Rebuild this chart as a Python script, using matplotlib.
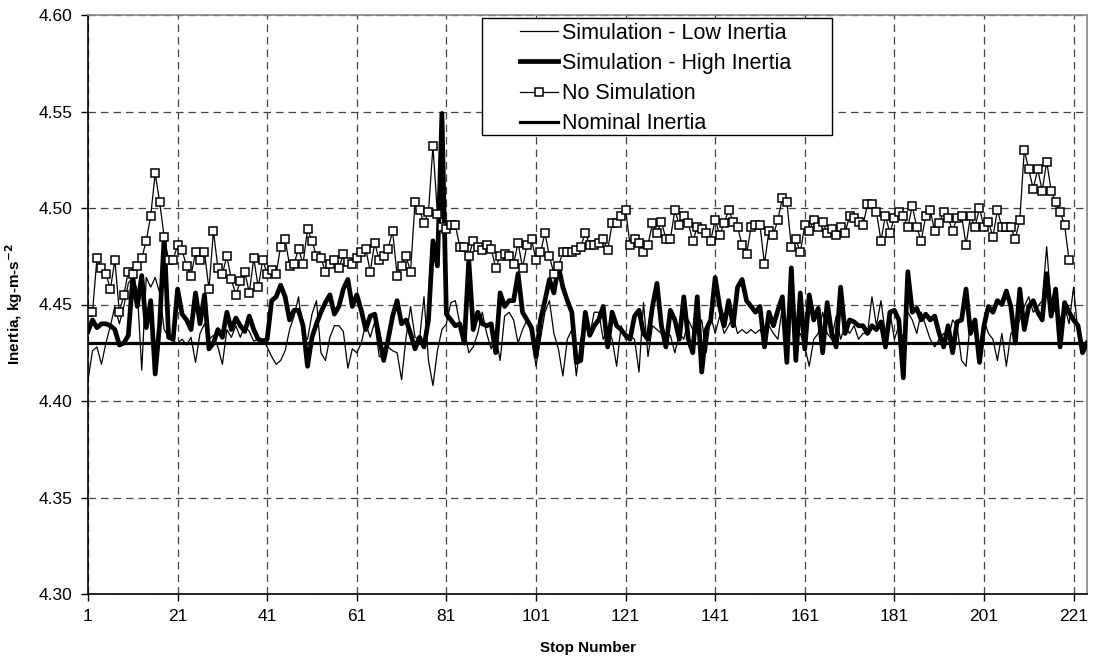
import numpy as np
from matplotlib import pyplot as plt
from matplotlib.patches import Rectangle

plt.rcParams['font.family'] = ['Liberation Sans', 'DejaVu Sans']

# stops 1..224 (no simulation run only has 220 stops)
low_inertia = [
    4.411, 4.426, 4.428, 4.419, 4.430, 4.439, 4.449, 4.440, 4.449, 4.461,
    4.464, 4.457, 4.416, 4.464, 4.459, 4.464, 4.456, 4.437, 4.433, 4.431,
    4.430, 4.432, 4.429, 4.433, 4.420, 4.435, 4.440, 4.432, 4.434, 4.428,
    4.419, 4.437, 4.433, 4.439, 4.433, 4.439, 4.436, 4.431, 4.432, 4.432,
    4.428, 4.423, 4.419, 4.421, 4.426, 4.437, 4.444, 4.454, 4.433, 4.432,
    4.445, 4.452, 4.425, 4.421, 4.433, 4.439, 4.439, 4.436, 4.417, 4.427,
    4.425, 4.430, 4.440, 4.433, 4.441, 4.423, 4.423, 4.428, 4.426, 4.425,
    4.411, 4.433, 4.449, 4.433, 4.432, 4.454, 4.421, 4.408, 4.426, 4.437,
    4.440, 4.451, 4.452, 4.440, 4.437, 4.425, 4.428, 4.435, 4.446, 4.435,
    4.427, 4.434, 4.421, 4.444, 4.446, 4.442, 4.430, 4.437, 4.442, 4.435,
    4.418, 4.432, 4.446, 4.452, 4.435, 4.427, 4.413, 4.432, 4.437, 4.413,
    4.432, 4.440, 4.434, 4.446, 4.446, 4.432, 4.437, 4.432, 4.418, 4.439,
    4.432, 4.434, 4.432, 4.415, 4.451, 4.423, 4.439, 4.437, 4.435, 4.434,
    4.434, 4.425, 4.435, 4.432, 4.442, 4.437, 4.435, 4.442, 4.425, 4.444,
    4.435, 4.444, 4.435, 4.439, 4.444, 4.435, 4.437, 4.435, 4.437, 4.435,
    4.437, 4.432, 4.439, 4.435, 4.432, 4.449, 4.437, 4.456, 4.432, 4.435,
    4.428, 4.418, 4.432, 4.435, 4.446, 4.435, 4.432, 4.444, 4.432, 4.439,
    4.435, 4.439, 4.432, 4.435, 4.435, 4.454, 4.439, 4.452, 4.435, 4.446,
    4.432, 4.439, 4.432, 4.446, 4.442, 4.435, 4.446, 4.439, 4.432, 4.428,
    4.432, 4.435, 4.432, 4.442, 4.439, 4.421, 4.418, 4.442, 4.435, 4.428,
    4.442, 4.435, 4.432, 4.421, 4.435, 4.418, 4.435, 4.437, 4.442, 4.449,
    4.454, 4.446, 4.449, 4.452, 4.480, 4.449, 4.446, 4.442, 4.449, 4.440,
    4.459, 4.435, 4.428, 4.430,
]

high_inertia = [
    4.436, 4.442, 4.438, 4.440, 4.440, 4.439, 4.437, 4.429, 4.430, 4.434,
    4.464, 4.449, 4.465, 4.438, 4.452, 4.414, 4.440, 4.485, 4.433, 4.432,
    4.458, 4.445, 4.442, 4.437, 4.456, 4.440, 4.455, 4.427, 4.430, 4.437,
    4.433, 4.446, 4.437, 4.443, 4.439, 4.436, 4.444, 4.437, 4.432, 4.431,
    4.432, 4.452, 4.454, 4.460, 4.454, 4.442, 4.447, 4.447, 4.439, 4.418,
    4.433, 4.440, 4.446, 4.451, 4.455, 4.445, 4.449, 4.458, 4.463, 4.449,
    4.455, 4.447, 4.437, 4.444, 4.445, 4.433, 4.421, 4.432, 4.444, 4.452,
    4.440, 4.442, 4.435, 4.427, 4.433, 4.428, 4.442, 4.483, 4.470, 4.549,
    4.445, 4.442, 4.439, 4.440, 4.430, 4.473, 4.437, 4.446, 4.440, 4.439,
    4.440, 4.425, 4.456, 4.449, 4.452, 4.452, 4.466, 4.446, 4.442, 4.438,
    4.423, 4.442, 4.452, 4.463, 4.456, 4.470, 4.459, 4.452, 4.446, 4.420,
    4.421, 4.446, 4.434, 4.439, 4.442, 4.449, 4.428, 4.446, 4.439, 4.437,
    4.434, 4.432, 4.444, 4.447, 4.435, 4.432, 4.449, 4.461, 4.439, 4.428,
    4.447, 4.442, 4.432, 4.454, 4.432, 4.425, 4.454, 4.415, 4.437, 4.442,
    4.464, 4.449, 4.439, 4.452, 4.439, 4.459, 4.463, 4.452, 4.449, 4.446,
    4.449, 4.428, 4.446, 4.439, 4.447, 4.454, 4.420, 4.469, 4.421, 4.456,
    4.427, 4.455, 4.442, 4.448, 4.425, 4.451, 4.435, 4.428, 4.459, 4.435,
    4.442, 4.441, 4.439, 4.439, 4.435, 4.439, 4.437, 4.441, 4.428, 4.446,
    4.447, 4.442, 4.412, 4.467, 4.446, 4.448, 4.442, 4.445, 4.442, 4.444,
    4.435, 4.428, 4.439, 4.425, 4.441, 4.442, 4.458, 4.435, 4.442, 4.420,
    4.439, 4.449, 4.446, 4.452, 4.450, 4.457, 4.449, 4.430, 4.458, 4.437,
    4.449, 4.452, 4.446, 4.442, 4.466, 4.444, 4.458, 4.428, 4.451, 4.446,
    4.442, 4.439, 4.425, 4.430,
]

no_simulation = [
    4.446, 4.446, 4.474, 4.469, 4.466, 4.458, 4.473, 4.446, 4.455, 4.467,
    4.466, 4.470, 4.474, 4.483, 4.496, 4.518, 4.503, 4.485, 4.473, 4.473,
    4.481, 4.478, 4.470, 4.465, 4.477, 4.473, 4.477, 4.458, 4.488, 4.469,
    4.466, 4.475, 4.463, 4.455, 4.462, 4.467, 4.456, 4.474, 4.459, 4.473,
    4.466, 4.468, 4.466, 4.480, 4.484, 4.470, 4.471, 4.479, 4.471, 4.489,
    4.483, 4.475, 4.474, 4.467, 4.471, 4.473, 4.469, 4.476, 4.472, 4.471,
    4.474, 4.477, 4.479, 4.467, 4.482, 4.473, 4.475, 4.479, 4.488, 4.465,
    4.470, 4.475, 4.467, 4.503, 4.499, 4.492, 4.498, 4.532, 4.497, 4.490,
    4.489, 4.491, 4.491, 4.480, 4.480, 4.475, 4.483, 4.480, 4.478, 4.481,
    4.479, 4.469, 4.475, 4.476, 4.475, 4.471, 4.482, 4.469, 4.481, 4.484,
    4.473, 4.477, 4.487, 4.475, 4.466, 4.470, 4.477, 4.477, 4.477, 4.478,
    4.480, 4.487, 4.481, 4.481, 4.482, 4.484, 4.478, 4.492, 4.492, 4.496,
    4.499, 4.481, 4.484, 4.482, 4.477, 4.481, 4.492, 4.487, 4.493, 4.484,
    4.484, 4.499, 4.491, 4.496, 4.492, 4.483, 4.490, 4.489, 4.487, 4.483,
    4.494, 4.486, 4.492, 4.499, 4.493, 4.490, 4.481, 4.476, 4.490, 4.491,
    4.491, 4.471, 4.488, 4.486, 4.494, 4.505, 4.503, 4.480, 4.484, 4.477,
    4.491, 4.488, 4.494, 4.490, 4.493, 4.487, 4.489, 4.486, 4.490, 4.487,
    4.496, 4.495, 4.493, 4.491, 4.502, 4.502, 4.498, 4.483, 4.496, 4.487,
    4.495, 4.498, 4.496, 4.490, 4.501, 4.490, 4.483, 4.496, 4.499, 4.488,
    4.492, 4.498, 4.495, 4.488, 4.495, 4.496, 4.481, 4.496, 4.490, 4.500,
    4.490, 4.493, 4.485, 4.499, 4.490, 4.490, 4.490, 4.484, 4.494, 4.530,
    4.520, 4.510, 4.520, 4.509, 4.524, 4.509, 4.503, 4.498, 4.491, 4.473,
]

nominal_value = 4.43

stops = np.arange(1, len(low_inertia) + 1)
nominal = [nominal_value] * len(stops)

fig = plt.figure(figsize=(10.93, 6.66), dpi=100)
ax = fig.add_axes([88 / 1093, 1 - 594 / 666, 999 / 1093, 579 / 666])

ax.plot(stops, low_inertia, color='black', lw=0.9, label='Simulation - Low Inertia', zorder=3)
ax.plot(stops, high_inertia, color='black', lw=3.4, label='Simulation - High Inertia', zorder=4)
ax.plot(stops[:len(no_simulation)], no_simulation, color='black', lw=0.9, marker='s',
        markersize=5.6, markerfacecolor='white', markeredgecolor='black', markeredgewidth=1.1,
        label='No Simulation', zorder=5)
ax.plot(stops, nominal, color='black', lw=2.3, label='Nominal Inertia', zorder=6)

ax.set_xlim(1, 224)
ax.set_ylim(4.30, 4.60)
ax.set_xticks(np.arange(1, 222, 20))
ax.set_yticks(np.arange(4.30, 4.601, 0.05))
ax.yaxis.set_major_formatter(plt.FormatStrFormatter('%.2f'))
ax.tick_params(labelsize=12.5, direction='out', length=5, width=1, pad=6, colors='black')

ax.grid(True, color='#444444', linestyle=(0, (6, 4)), lw=0.9, zorder=1)
ax.set_axisbelow(True)

for side in ['top', 'right']:
    ax.spines[side].set_color('#888888')
    ax.spines[side].set_linewidth(1.2)
for side in ['left', 'bottom']:
    ax.spines[side].set_color('black')
    ax.spines[side].set_linewidth(1.2)

ax.set_xlabel('Stop Number', fontsize=11, fontweight='bold', labelpad=12)
ax.set_ylabel('Inertia, kg-m-s$^{\\mathbf{-2}}$', fontsize=11, fontweight='bold', labelpad=10)

# legend box drawn like Excel's
box = Rectangle((0.394, 0.7927), 0.7445 - 0.394, 0.9948 - 0.7927, transform=ax.transAxes,
                facecolor='white', edgecolor='black', lw=1.0, zorder=9)
ax.add_patch(box)
leg = ax.legend(loc='upper left', bbox_to_anchor=(0.432, 0.987), frameon=False,
                fontsize=15.5, handlelength=1.77, handletextpad=0.22, labelspacing=0.43,
                borderpad=0, borderaxespad=0)
leg.set_zorder(10)

fig.savefig('out.png', dpi=100)
